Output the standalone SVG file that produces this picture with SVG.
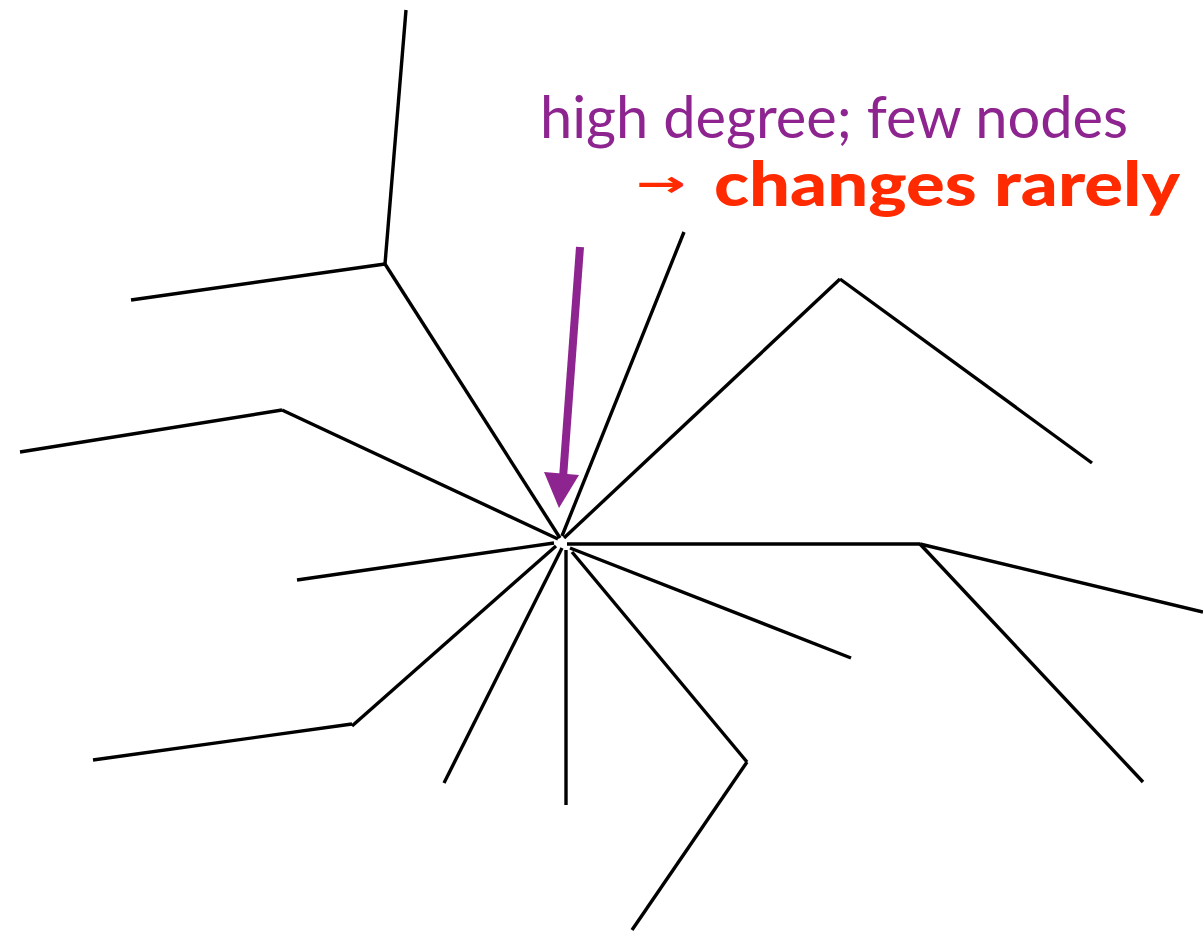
<svg xmlns="http://www.w3.org/2000/svg" width="1203" height="933" viewBox="0 0 1203 933">
<style>
.e{stroke:#000;stroke-width:3.4;fill:none;stroke-linecap:butt}
.t1{font-family:Lato,"Open Sans",sans-serif;font-size:58px;fill:#8E2490}
.t2{font-family:Lato,"Open Sans",sans-serif;font-size:60px;font-weight:900;fill:#FF2A00}
.t3{font-family:"DejaVu Sans",sans-serif;font-size:36px;font-weight:bold;fill:#FF2A00}
</style>
<rect width="1203" height="933" fill="#fff"/>
<g id="connectors">
<line class="e" x1="560" y1="538" x2="385" y2="264"/>
<line class="e" x1="385" y1="264" x2="406" y2="10"/>
<line class="e" x1="385" y1="264" x2="131" y2="300"/>
<line class="e" x1="558" y1="539" x2="282" y2="410"/>
<line class="e" x1="282" y1="410" x2="20" y2="452"/>
<line class="e" x1="562" y1="536" x2="684" y2="232"/>
<line class="e" x1="564" y1="538" x2="840" y2="279"/>
<line class="e" x1="840" y1="279" x2="1092" y2="463"/>
<line class="e" x1="567" y1="544" x2="920" y2="544"/>
<line class="e" x1="920" y1="544" x2="1203" y2="612"/>
<line class="e" x1="920" y1="544" x2="1143" y2="782"/>
<line class="e" x1="570" y1="548" x2="851" y2="658"/>
<line class="e" x1="572" y1="552" x2="747" y2="762"/>
<line class="e" x1="747" y1="762" x2="632" y2="930"/>
<line class="e" x1="566" y1="550" x2="566" y2="805"/>
<line class="e" x1="562" y1="548" x2="444" y2="783"/>
<line class="e" x1="556" y1="546" x2="352" y2="726"/>
<line class="e" x1="352" y1="724" x2="93" y2="760"/>
<line class="e" x1="554" y1="543" x2="297" y2="580"/>
</g>
<g id="arrow">
<line x1="580" y1="247" x2="563" y2="478" stroke="#8E2490" stroke-width="8"/>
<polygon points="544,472 579,475 559,508" fill="#8E2490"/>
</g>
<g id="label">
<text class="t1" x="540" y="138" textLength="588" lengthAdjust="spacingAndGlyphs">high degree; few nodes</text>
<text class="t3" x="636" y="196" textLength="50" lengthAdjust="spacingAndGlyphs">→</text>
<text class="t2" x="714" y="206" textLength="466" lengthAdjust="spacingAndGlyphs">changes rarely</text>
</g>
</svg>
